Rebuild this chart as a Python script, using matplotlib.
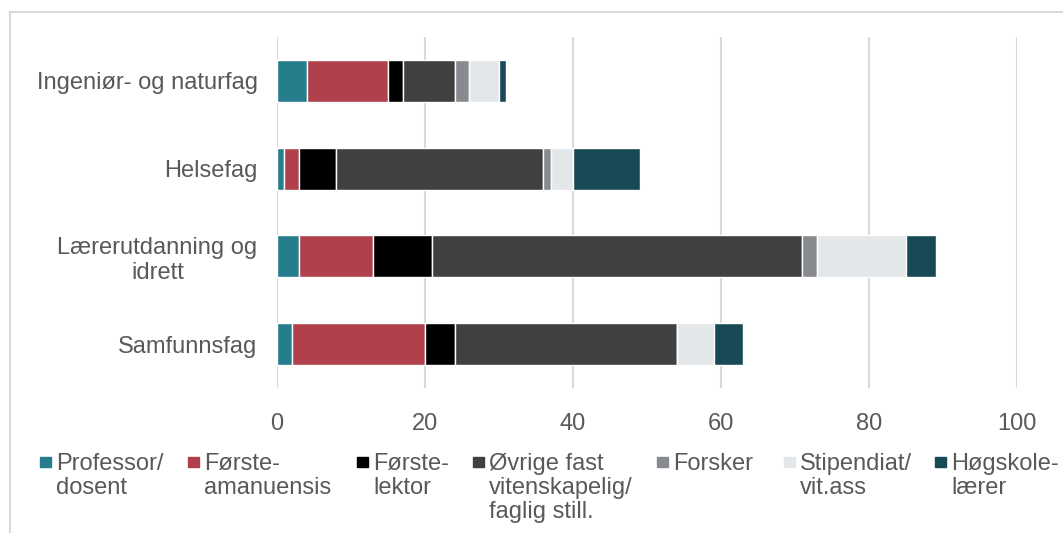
import numpy as np
import matplotlib
matplotlib.use("Agg")
import matplotlib.pyplot as plt
from matplotlib.patches import Rectangle
from matplotlib.lines import Line2D

plt.rcParams['font.family'] = ['Liberation Sans', 'DejaVu Sans']

# data
categories = ["Ingeniør- og naturfag", "Helsefag", "Lærerutdanning og\nidrett", "Samfunnsfag"]
professor = [4, 1, 3, 2]
forsteamanuensis = [11, 2, 10, 18]
forstelektor = [2, 5, 8, 4]
ovrige = [7, 28, 50, 30]
forsker = [2, 1, 2, 0]
stipendiat = [4, 3, 12, 5]
hogskolelaerer = [1, 9, 4, 4]

series = [
    ("Professor/\ndosent", professor, "#267D8C"),
    ("Første-\namanuensis", forsteamanuensis, "#B0414C"),
    ("Første-\nlektor", forstelektor, "#000000"),
    ("Øvrige fast\nvitenskapelig/\nfaglig still.", ovrige, "#404040"),
    ("Forsker", forsker, "#878B8F"),
    ("Stipendiat/\nvit.ass", stipendiat, "#E3E7EA"),
    ("Høgskole-\nlærer", hogskolelaerer, "#174A54"),
]
xticks = [0, 20, 40, 60, 80, 100]

W, H = 1063, 533
TEXT = "#595959"
GRID = "#D9D9D9"

fig = plt.figure(figsize=(W / 100, H / 100), dpi=100)
ax = fig.add_axes([277 / W, 1 - 388 / H, 740 / W, 351 / H])

y = np.arange(len(categories))
left = np.zeros(len(categories))
for name, vals, col in series:
    vals = np.array(vals, dtype=float)
    ax.barh(y, vals, left=left, height=0.48, color=col,
            edgecolor="white", linewidth=1.0, zorder=3)
    left += vals

ax.set_xlim(0, 100)
ax.set_ylim(len(categories) - 0.5, -0.5)
ax.set_xticks(xticks)
ax.set_yticks(y)
ax.set_yticklabels(categories, multialignment="center")
ax.tick_params(axis="both", length=0, labelsize=17, labelcolor=TEXT)
ax.tick_params(axis="x", pad=18)
ax.tick_params(axis="y", pad=14)
for s in ax.spines.values():
    s.set_visible(False)
ax.grid(axis="x", color=GRID, linewidth=1.5, zorder=0)
ax.set_axisbelow(True)

# legend drawn by hand to follow the original spacing
marker_x = [40, 188, 357, 473, 657, 784, 935]
for (name, vals, col), mx in zip(series, marker_x):
    fig.add_artist(Rectangle((mx / W, 1 - 467 / H), 11 / W, 10 / H,
                             transform=fig.transFigure, color=col))
    fig.text((mx + 16) / W, 1 - 453 / H, name, fontsize=17, color=TEXT,
             ha="left", va="top", linespacing=1.13)

# outer frame (top and left visible)
fig.add_artist(Line2D([10 / W, 1.0], [1 - 12 / H, 1 - 12 / H],
                      transform=fig.transFigure, color=GRID, linewidth=1.5))
fig.add_artist(Line2D([10 / W, 10 / W], [1 - 12 / H, 0],
                      transform=fig.transFigure, color=GRID, linewidth=1.5))

fig.savefig("out.png", dpi=100, facecolor="white")
